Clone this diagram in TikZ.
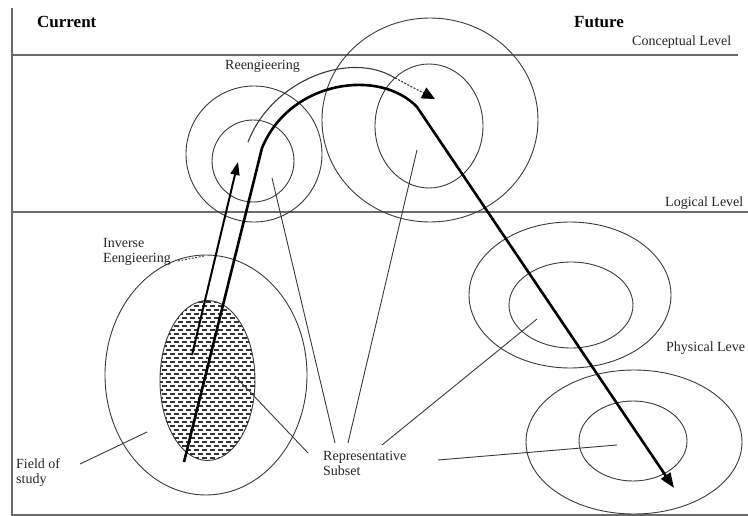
\documentclass[tikz,border=0pt]{standalone}
\usepackage{fontspec}
\setmainfont{Liberation Serif}
\usepackage{tikz}
\usetikzlibrary{arrows.meta,positioning}
\definecolor{inkgray}{HTML}{3A3A3A}
\definecolor{rulegray}{HTML}{6A6A6A}

\begin{document}
\begin{tikzpicture}[x=1pt,y=-1pt,
    ring/.style={draw=inkgray,line width=0.9pt},
    leader/.style={draw=inkgray,line width=0.9pt},
    rule/.style={draw=rulegray,line width=1.6pt},
    lbl/.style={anchor=west,inner sep=0pt,align=left,text=black!85,font=\fontsize{14}{15}\selectfont},
    head/.style={anchor=west,inner sep=0pt,font=\fontsize{17}{18}\selectfont\bfseries},
    hatch/.style={draw=black!80,line width=1.1pt,dash pattern=on 5pt off 3pt},
    flow/.style={draw=black,line width=2.6pt,line join=round}]
  \useasboundingbox (0,0) rectangle (748,516);

  % Frame and levels
  \draw[rule] (12,8) -- (12,515) -- (748,515);
  \draw[rule] (12,55) -- (738,55);
  \draw[rule] (12,212) -- (748,212);

  % Rings
  \foreach \cx/\cy/\rx/\ry in {254/154/68/68, 253/161/41/41,
      430/120/108/102, 429/126/54/62, 570/295/101/73, 571/305/62/43,
      634/442/108/72, 633/441/54/40, 206/375/101/120} {
    \draw[ring] (\cx,\cy) ellipse [x radius=\rx, y radius=\ry];
  }

  % Hatched subset
  \begin{scope}
    \clip (207.5,380.5) ellipse [x radius=47.5, y radius=80];
    \foreach \yy in {302,310,...,462}
      \draw[hatch] (158,\yy) -- (258,\yy);
    \foreach \yy in {306,314,...,462}
      \draw[hatch,dash phase=4pt] (158,\yy) -- (258,\yy);
  \end{scope}
  \draw[ring] (207.5,380.5) ellipse [x radius=47.5, y radius=80];

  % Labels
  \node[head] (cur) at (37,22) {Current};
  \node[head] (fut) at (574,22) {Future};
  \node[lbl] (concept) at (632,42) {Conceptual Level};
  \node[lbl] (logic) at (665,203) {Logical Level};
  \node[lbl] (phys) at (666,348) {Physical Leve};
  \node[lbl] (reeng) at (225,66) {Reengieering};
  \node[lbl] (inverse) at (103,252) {Inverse\\Eengieering};
  \node[lbl] (field) at (16,473) {Field of\\study};
  \node[lbl] (repsub) at (323,463) {Representative\\Subset};

  % Leader ends
  \coordinate (fieldA) at (80,464);
  \coordinate (fieldB) at (147,432);
  \coordinate (invA) at (178,261);
  \coordinate (invB) at (204,256);
  \coordinate (rsA) at (335,443);
  \coordinate (rsB) at (348,443);
  \coordinate (rsC) at (382,445);
  \coordinate (rsD) at (308,453);
  \coordinate (rsE) at (438,460);
  \coordinate (leftring) at (272,178);
  \coordinate (bigring) at (417,150);
  \coordinate (midring) at (537,319);
  \coordinate (hatchin) at (235,376);
  \coordinate (lowring) at (617,445);

  \draw[leader] (fieldA) -- (fieldB);
  \draw[leader,dash pattern=on 2pt off 1.5pt] (invA) -- (invB);
  \draw[leader] (rsA) -- (leftring);
  \draw[leader] (rsB) -- (bigring);
  \draw[leader] (rsC) -- (midring);
  \draw[leader] (rsD) -- (hatchin);
  \draw[leader] (rsE) -- (lowring);

  % Inverse engineering arrow
  \coordinate (ieA) at (192,355);
  \coordinate (ieB) at (238,162);
  \draw[line width=2pt,-{Triangle[length=13pt,width=9pt]}] (ieA) -- (ieB);

  % Reengineering arrow
  \coordinate (reA) at (248,142);
  \coordinate (reB) at (395,78);
  \coordinate (reC) at (435,99);
  \draw[leader,line width=1.1pt] (reA) .. controls (272,80) and (350,50) .. (reB);
  \draw[leader,line width=1.1pt,dash pattern=on 2pt off 1.5pt,
    -{Triangle[length=13pt,width=12pt,color=black,fill=black]}] (reB) -- (reC);

  % Main path
  \coordinate (fA) at (184,462);
  \coordinate (fB) at (262,148);
  \coordinate (fC) at (417,107);
  \coordinate (fD) at (674,488);
  \draw[flow,-{Triangle[length=15pt,width=11pt]}]
    (fA) -- (fB) .. controls (290,80) and (380,68) .. (fC) -- (fD);
\end{tikzpicture}
\end{document}
